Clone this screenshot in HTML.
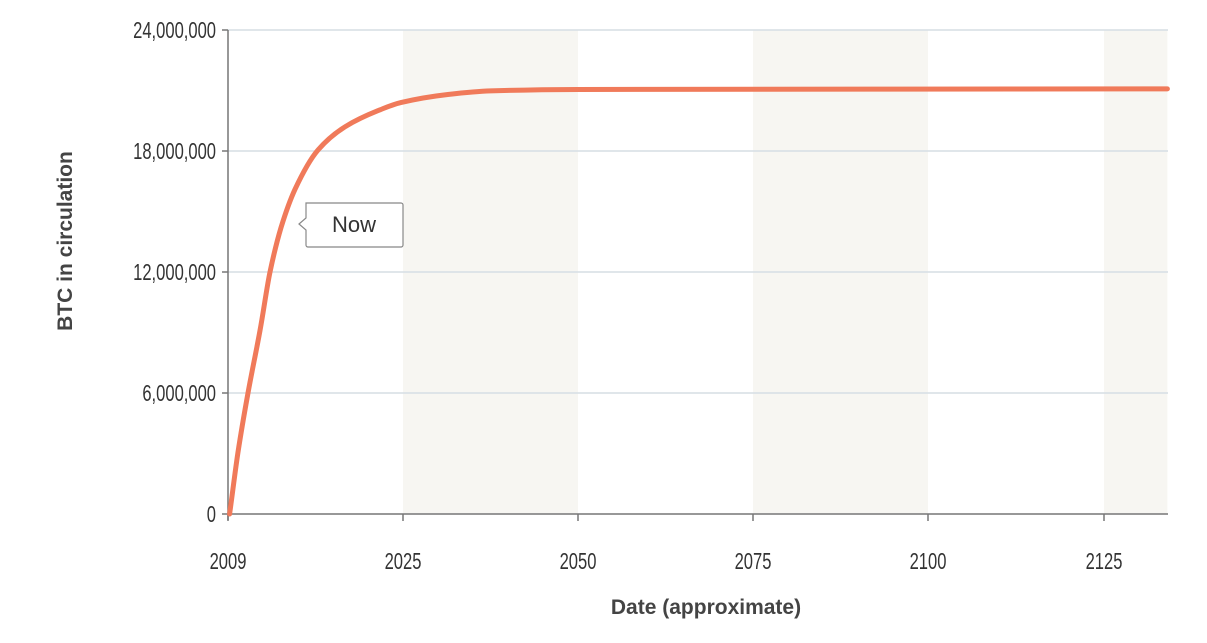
<!DOCTYPE html>
<html><head><meta charset="utf-8"><style>
body{margin:0;background:#fff;width:1207px;height:638px;overflow:hidden}
text{font-family:"Liberation Sans",sans-serif}
</style></head><body>
<svg id="c" width="1207" height="638"></svg>
<script>
const tickYears=[2009,2025,2050,2075,2100,2125];
const tickPx=[228,403,578,753,928,1104];
const yTicks=[0,6000000,12000000,18000000,24000000];
const yTickLabels=["0","6,000,000","12,000,000","18,000,000","24,000,000"];
const years=[2009.15,2009.9,2010.83,2011.93,2012.84,2013.85,2015.13,2017.23,2019.7,2022.7,2024.8,2031.4,2037.5,2050,2134];
const supply=[0,3000000,6000000,9100000,12000000,14200000,16100000,18050000,19200000,20000000,20400000,20800000,20980000,21050000,21080000];
const bands=[[2025,2050],[2075,2100],[2125,2134]];
const NS="http://www.w3.org/2000/svg";
const svg=document.getElementById('c');
function xs(yr){for(let i=0;i<tickYears.length-1;i++){if(yr<=tickYears[i+1]||i===tickYears.length-2){const a=tickYears[i],b=tickYears[i+1];return tickPx[i]+(yr-a)/(b-a)*(tickPx[i+1]-tickPx[i]);}}}
const y0=514,y1=30;
function ys(v){return y0-(v/24000000)*(y0-y1);}
const x0=228,xEnd=1168;
function el(t,a,txt){const e=document.createElementNS(NS,t);for(const k in a)e.setAttribute(k,a[k]);if(txt!=null)e.textContent=txt;svg.appendChild(e);return e;}
bands.forEach(b=>{const e=el('rect',{x:xs(b[0]),y:y1,width:Math.min(xs(b[1]),xEnd)-xs(b[0]),height:y0-y1,fill:'#f7f6f2'});

});
yTicks.forEach((v,i)=>{const y=ys(v);
if(v>0){const g=el('line',{x1:x0,x2:xEnd,y1:y,y2:y,stroke:'#d6dde4','stroke-width':1.5});

}
el('line',{x1:x0-6,x2:x0,y1:y,y2:y,stroke:'#777','stroke-width':1.5});
const t=el('text',{x:x0-12,y:y+8,'text-anchor':'end','font-size':23,fill:'#333',transform:`translate(${x0-12},0) scale(0.72,1) translate(${-(x0-12)},0)`},yTickLabels[i]);

});
el('line',{x1:x0,x2:x0,y1:y1,y2:y0+6,stroke:'#777','stroke-width':1.5});
el('line',{x1:x0,x2:xEnd,y1:y0,y2:y0,stroke:'#777','stroke-width':1.5});
tickYears.forEach((yr,i)=>{const x=xs(yr);
el('line',{x1:x,x2:x,y1:y0,y2:y0+7,stroke:'#777','stroke-width':1.5});
const t=el('text',{x:x,y:569,'text-anchor':'middle','font-size':23,fill:'#333',transform:`translate(${x},0) scale(0.72,1) translate(${-x},0)`},String(yr));

});
const P=years.map((yr,i)=>[xs(yr),ys(supply[i])]);
const n=P.length,dx=[],sl=[],m=[];
for(let i=0;i<n-1;i++){dx[i]=P[i+1][0]-P[i][0];sl[i]=(P[i+1][1]-P[i][1])/dx[i];}
m[0]=sl[0];m[n-1]=sl[n-2];
for(let i=1;i<n-1;i++){m[i]=(sl[i-1]*sl[i]<=0)?0:3*(dx[i-1]+dx[i])/((2*dx[i]+dx[i-1])/sl[i-1]+(dx[i]+2*dx[i-1])/sl[i]);}
let d='M'+P[0][0].toFixed(1)+','+P[0][1].toFixed(1);
for(let i=0;i<n-1;i++){const h=dx[i]/3;
d+=`C${(P[i][0]+h).toFixed(1)},${(P[i][1]+m[i]*h).toFixed(1)} ${(P[i+1][0]-h).toFixed(1)},${(P[i+1][1]-m[i+1]*h).toFixed(1)} ${P[i+1][0].toFixed(1)},${P[i+1][1].toFixed(1)}`;}
const line=el('path',{d:d,fill:'none',stroke:'#f07a5a','stroke-width':5,'stroke-linejoin':'round','stroke-linecap':'round'});


const co=el('path',{d:'M306,203 H401 a2,2 0 0 1 2,2 V245 a2,2 0 0 1 -2,2 H308 a2,2 0 0 1 -2,-2 V230 L299,224 L306,218 Z',fill:'#fff',stroke:'#888','stroke-width':1.2});


const nt=el('text',{x:354,y:232,'text-anchor':'middle','font-size':22,fill:'#333'},'Now');


const xt=el('text',{x:706,y:614,'text-anchor':'middle','font-size':21,'font-weight':'bold',fill:'#444'},'Date (approximate)');


const yt=el('text',{x:0,y:0,'text-anchor':'middle','font-size':21,'font-weight':'bold',fill:'#444',transform:'translate(72,241) rotate(-90)'},'BTC in circulation');


</script>
</body></html>
